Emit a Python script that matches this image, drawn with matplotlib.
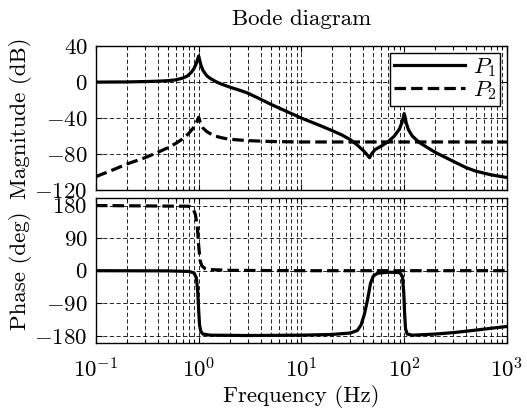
import numpy as np
import matplotlib
matplotlib.use("Agg")
import matplotlib.pyplot as plt
from matplotlib.ticker import FixedLocator, FuncFormatter, LogLocator, NullFormatter

plt.rcParams['font.family'] = 'cmr10'
plt.rcParams['mathtext.fontset'] = 'cm'
plt.rcParams['axes.unicode_minus'] = False
plt.rcParams['font.size'] = 16.5

# values
# magnitude of P1 (dB)
f_mag1 = [0.1, 0.2, 0.3, 0.4, 0.5, 0.6, 0.7, 0.77, 0.85, 0.9, 0.95, 0.98, 1.0, 1.02,
          1.05, 1.1, 1.2, 1.3, 1.5, 1.7, 2, 2.5, 3, 4, 5, 7, 10, 15, 20, 25, 30, 35, 40, 43,
          46, 48, 52, 60, 70, 80, 90, 95, 98, 100, 102, 105, 110, 120, 140, 170,
          200, 300, 400, 500, 700, 1000]
mag1 = [0, 0.2, 0.6, 1.0, 1.6, 2.5, 4.5, 6.5, 11, 15, 21, 26, 29, 25,
        19, 13, 7, 4, 0, -2.6, -5.5, -9, -12.2, -19, -24.5, -32, -40, -48, -54, -59, -64, -70, -76, -80,
        -84, -80, -75, -71, -66, -60, -52, -45, -39, -35, -39, -46, -53, -60, -67, -73,
        -78, -88, -95, -99, -103, -106]

# magnitude of P2 (dB)
f_mag2 = [0.1, 0.15, 0.2, 0.3, 0.4, 0.5, 0.6, 0.7, 0.8, 0.9, 0.95, 1.0, 1.03, 1.1,
          1.2, 1.4, 1.7, 2, 3, 5, 10, 1000]
mag2 = [-105, -97, -91, -84, -78, -73, -68, -63, -57, -50, -45, -39, -44, -51,
        -55, -59.5, -62, -63.5, -65, -66, -66.5, -66.5]

# phase of P1 (deg)
f_ph1 = [0.1, 0.5, 0.8, 0.9, 0.95, 0.98, 1.0, 1.02, 1.05, 1.1, 1.3, 3, 10, 20, 30,
         35, 38, 41, 44, 47, 50, 55, 70, 90, 96, 99, 101, 103, 107, 120, 200, 300,
         500, 700, 1000]
ph1 = [0, -0.5, -2, -6, -20, -60, -110, -150, -168, -175, -178, -179, -178, -176, -172,
       -165, -150, -120, -80, -35, -15, -7, -4, -5, -15, -60, -120, -160, -175, -178, -175, -171,
       -164, -159, -154]

# phase of P2 (deg)
f_ph2 = [0.1, 0.8, 0.88, 0.93, 0.97, 1.0, 1.03, 1.07, 1.15, 1.3, 2, 10, 1000]
ph2 = [180, 178, 172, 155, 120, 70, 30, 14, 6, 3, 1, 0, 0]

mag_ticks = [40, 0, -40, -80, -120]
ph_ticks = [180, 90, 0, -90, -180]

fig = plt.figure(figsize=(5.27, 4.08), dpi=100)
ax1 = fig.add_axes([0.182, 0.534, 0.780, 0.353])
ax2 = fig.add_axes([0.182, 0.159, 0.780, 0.355])

solid = dict(color='black', lw=2.3)
dashed = dict(color='black', lw=2.3, ls=(0, (3.6, 1.6)))

ax1.plot(f_mag1, mag1, label='$P_1$', **solid)
ax1.plot(f_mag2, mag2, label='$P_2$', **dashed)
ax2.plot(f_ph1, ph1, **solid)
ax2.plot(f_ph2, ph2, **dashed)

ax1.set_ylim(-120, 40)
ax2.set_ylim(-200, 200)
ax1.yaxis.set_major_locator(FixedLocator(mag_ticks))
ax2.yaxis.set_major_locator(FixedLocator(ph_ticks))

for ax in (ax1, ax2):
    ax.set_xscale('log')
    ax.set_xlim(0.1, 1000)
    ax.xaxis.set_major_locator(LogLocator(base=10, numticks=10))
    ax.xaxis.set_minor_locator(LogLocator(base=10, subs=np.arange(2, 10), numticks=20))
    ax.xaxis.set_minor_formatter(NullFormatter())
    ax.yaxis.set_major_formatter(FuncFormatter(lambda v, p: '$%g$' % v))
    ax.grid(True, which='major', color='black', lw=0.6, ls=(0, (5, 3)))
    ax.grid(True, which='minor', axis='x', color='black', lw=0.6, ls=(0, (5, 3)))
    ax.tick_params(which='both', direction='in', top=True, right=True, width=0.8)
    ax.tick_params(which='major', length=4, pad=6)
    ax.tick_params(which='minor', length=2.5)
    for s in ax.spines.values():
        s.set_linewidth(1.0)
    ax.yaxis.set_label_coords(-0.155, 0.5)

ax1.xaxis.set_major_formatter(NullFormatter())
ax2.xaxis.set_major_formatter(FuncFormatter(lambda v, p: '$10^{%d}$' % round(np.log10(v))))
ax2.tick_params(axis='x', which='major', pad=10)

ax1.set_title('Bode diagram', fontsize=16.5, pad=15)
ax1.set_ylabel('Magnitude (dB)')
ax2.set_ylabel('Phase (deg)')
ax2.set_xlabel('Frequency (Hz)')
ax2.xaxis.set_label_coords(0.5, -0.29)

leg = ax1.legend(loc='upper right', handlelength=3.1, fancybox=False, framealpha=1,
                 edgecolor='black', borderpad=0.15, labelspacing=0.0, handletextpad=0.35,
                 borderaxespad=0.3)
leg.get_frame().set_linewidth(1.0)

fig.savefig('out.png', dpi=100)
